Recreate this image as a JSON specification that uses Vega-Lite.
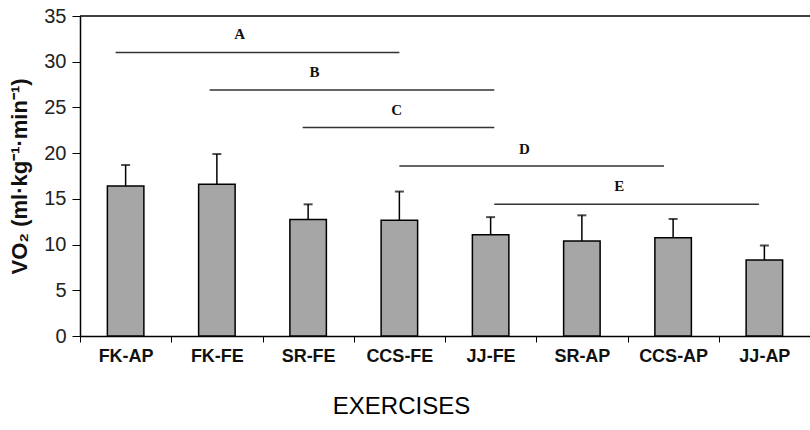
{
  "$schema": "https://vega.github.io/schema/vega-lite/v6.json",
  "width": 730,
  "height": 320,
  "autosize": {"type": "none"},
  "padding": {"left": 80, "top": 16, "right": 0, "bottom": 94},
  "config": {"view": {"stroke": null}, "font": "Liberation Sans"},
  "datasets": {
    "bars": [
      {"exercise": "FK-AP", "vo2": 16.4, "upper": 18.7},
      {"exercise": "FK-FE", "vo2": 16.6, "upper": 19.9},
      {"exercise": "SR-FE", "vo2": 12.75, "upper": 14.4},
      {"exercise": "CCS-FE", "vo2": 12.65, "upper": 15.8},
      {"exercise": "JJ-FE", "vo2": 11.07, "upper": 13.0},
      {"exercise": "SR-AP", "vo2": 10.4, "upper": 13.2},
      {"exercise": "CCS-AP", "vo2": 10.74, "upper": 12.8},
      {"exercise": "JJ-AP", "vo2": 8.3, "upper": 9.9}
    ],
    "sig": [
      {"label": "A", "x1": 0.39, "x2": 3.5, "xl": 1.75, "y": 31.0, "yl": 33.0},
      {"label": "B", "x1": 1.42, "x2": 4.54, "xl": 2.57, "y": 26.9, "yl": 28.9},
      {"label": "C", "x1": 2.44, "x2": 4.54, "xl": 3.47, "y": 22.8, "yl": 24.7},
      {"label": "D", "x1": 3.5, "x2": 6.4, "xl": 4.87, "y": 18.6, "yl": 20.5},
      {"label": "E", "x1": 4.54, "x2": 7.44, "xl": 5.91, "y": 14.4, "yl": 16.4}
    ]
  },
  "layer": [
    {
      "data": {"name": "bars"},
      "mark": {"type": "bar", "fill": "#a6a6a6", "stroke": "#000", "strokeWidth": 1.5, "width": {"band": 0.4}},
      "encoding": {
        "x": {
          "field": "exercise", "type": "nominal", "sort": null,
          "scale": {"paddingInner": 0, "paddingOuter": 0},
          "axis": {
            "title": "EXERCISES", "titleFontSize": 24, "titleFontWeight": "normal", "titleColor": "#000",
            "titleX": 321, "titlePadding": 29, "labelAngle": 0, "labelFontSize": 18, "labelFontWeight": "bold", "labelColor": "#111",
            "labelPadding": 5, "tickBand": "extent", "tickSize": 6, "tickColor": "#000", "domainColor": "#000", "domainWidth": 1.5
          }
        },
        "y": {
          "field": "vo2", "type": "quantitative",
          "scale": {"domain": [0, 35], "nice": false},
          "axis": {
            "title": "VO₂ (ml·kg⁻¹·min⁻¹)", "titleFontSize": 22, "titleFontWeight": "bold", "titleColor": "#111",
            "titlePadding": 12, "values": [0, 5, 10, 15, 20, 25, 30, 35], "grid": false,
            "labelFontSize": 20, "labelColor": "#222", "labelPadding": 6, "tickSize": 8,
            "tickColor": "#000", "domainColor": "#000", "domainWidth": 1.5
          }
        }
      }
    },
    {
      "data": {"name": "bars"},
      "mark": {"type": "rule", "strokeWidth": 1.5, "color": "#000"},
      "encoding": {
        "x": {"field": "exercise", "type": "nominal", "sort": null, "axis": null},
        "y": {"field": "vo2", "type": "quantitative"},
        "y2": {"field": "upper"}
      }
    },
    {
      "data": {"name": "bars"},
      "mark": {"type": "tick", "orient": "horizontal", "size": 9, "thickness": 2, "color": "#000"},
      "encoding": {
        "x": {"field": "exercise", "type": "nominal", "sort": null, "axis": null},
        "y": {"field": "upper", "type": "quantitative"}
      }
    },
    {
      "data": {"values": [{"v": 35}]},
      "mark": {"type": "rule", "color": "#000", "strokeWidth": 1.5},
      "encoding": {"y": {"field": "v", "type": "quantitative"}}
    },
    {
      "data": {"name": "sig"},
      "mark": {"type": "rule", "color": "#333", "strokeWidth": 1.5},
      "encoding": {
        "x": {"field": "x1", "type": "quantitative", "scale": {"domain": [0, 8], "nice": false, "zero": false}, "axis": null},
        "x2": {"field": "x2"},
        "y": {"field": "y", "type": "quantitative"}
      }
    },
    {
      "data": {"name": "sig"},
      "mark": {"type": "text", "font": "Liberation Serif", "fontWeight": "bold", "fontSize": 15, "color": "#111"},
      "encoding": {
        "x": {"field": "xl", "type": "quantitative", "scale": {"domain": [0, 8], "nice": false, "zero": false}, "axis": null},
        "y": {"field": "yl", "type": "quantitative"},
        "text": {"field": "label"}
      }
    }
  ],
  "resolve": {"scale": {"x": "independent"}}
}
